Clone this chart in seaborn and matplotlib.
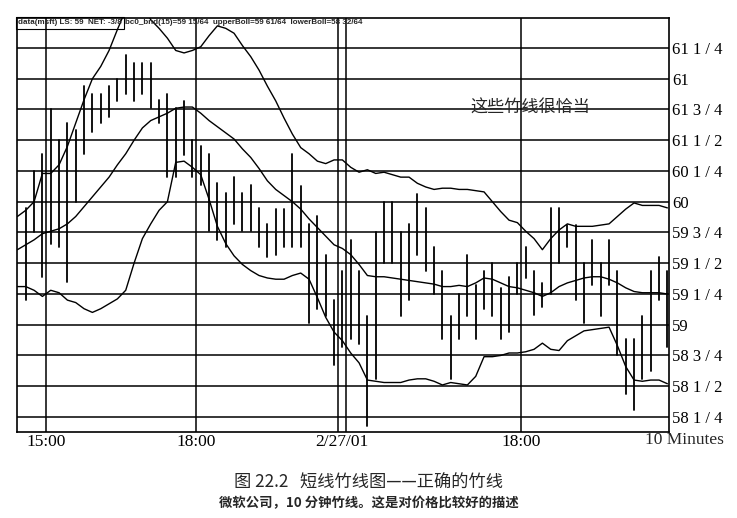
import numpy as np
import pandas as pd
import matplotlib
matplotlib.use("Agg")
import matplotlib.pyplot as plt
import seaborn as sns

# MSFT 10 minute bars (high / low)
bar_high = [59.95, 60.25, 60.39, 60.75, 60.50, 60.64, 60.58, 60.94, 60.88, 60.88,
            60.94, 61.00, 61.19, 61.13, 61.13, 61.13, 60.83, 60.88, 60.76, 60.82,
            60.50, 60.45, 60.39, 60.15, 60.07, 60.20, 60.07, 60.14, 59.95, 59.82,
            59.94, 59.94, 60.39, 60.13, 59.82, 59.88, 59.57, 59.20, 59.44, 59.69,
            59.44, 59.07, 59.75, 60.00, 60.00, 59.75, 59.82, 60.06, 59.95, 59.63,
            59.44, 59.07, 59.25, 59.57, 59.32, 59.44, 59.50, 59.30, 59.39, 59.50,
            59.63, 59.44, 59.34, 59.95, 59.95, 59.81, 59.81, 59.50, 59.69, 59.50,
            59.69, 59.44, 58.88, 58.88, 59.07, 59.44, 59.55, 59.44]
bar_low = [59.20, 59.75, 59.39, 59.66, 59.63, 59.35, 60.00, 60.39, 60.57, 60.64,
           60.69, 60.82, 60.88, 60.82, 60.88, 60.76, 60.64, 60.20, 60.20, 60.38,
           60.20, 60.14, 59.76, 59.69, 59.63, 59.82, 59.76, 59.76, 59.63, 59.55,
           59.57, 59.63, 59.63, 59.63, 59.01, 59.13, 59.07, 58.67, 58.82, 58.88,
           58.84, 58.18, 58.56, 59.50, 59.50, 59.07, 59.20, 59.57, 59.44, 59.25,
           58.88, 58.56, 58.88, 59.07, 58.88, 59.13, 59.07, 58.88, 58.94, 59.25,
           59.38, 59.08, 59.14, 59.25, 59.50, 59.63, 59.20, 59.01, 59.32, 59.07,
           59.32, 58.75, 58.44, 58.31, 58.56, 58.62, 59.20, 58.82]

# Bollinger band (15), starts one bar left of the first visible bar
upper_boll = [59.88, 59.93, 60.00, 60.23, 60.23, 60.30, 60.45, 60.64, 60.83, 61.00,
              61.10, 61.23, 61.40, 61.56, 61.62, 61.60, 61.48, 61.41, 61.33, 61.23,
              61.21, 61.23, 61.26, 61.35, 61.43, 61.41, 61.37, 61.27, 61.18, 61.07,
              60.94, 60.82, 60.68, 60.55, 60.44, 60.39, 60.33, 60.31, 60.34, 60.34,
              60.28, 60.24, 60.26, 60.23, 60.24, 60.22, 60.20, 60.20, 60.15, 60.12,
              60.10, 60.11, 60.11, 60.10, 60.10, 60.09, 60.08, 60.00, 59.92, 59.85,
              59.83, 59.76, 59.70, 59.61, 59.70, 59.77, 59.82, 59.80, 59.80, 59.80,
              59.81, 59.82, 59.88, 59.94, 59.99, 59.97, 59.97, 59.97, 59.95]
mid_boll = [59.61, 59.65, 59.69, 59.74, 59.76, 59.78, 59.82, 59.88, 59.96, 60.04,
            60.12, 60.20, 60.30, 60.39, 60.50, 60.60, 60.66, 60.69, 60.72, 60.76,
            60.77, 60.77, 60.72, 60.66, 60.61, 60.56, 60.51, 60.43, 60.36, 60.27,
            60.17, 60.10, 60.05, 60.00, 59.94, 59.86, 59.79, 59.72, 59.65, 59.62,
            59.57, 59.49, 59.40, 59.39, 59.39, 59.38, 59.37, 59.36, 59.35, 59.34,
            59.33, 59.31, 59.31, 59.32, 59.31, 59.34, 59.38, 59.37, 59.34, 59.31,
            59.30, 59.28, 59.26, 59.23, 59.26, 59.31, 59.34, 59.36, 59.38, 59.39,
            59.39, 59.37, 59.34, 59.30, 59.27, 59.26, 59.26, 59.26, 59.25]
lower_boll = [59.31, 59.31, 59.28, 59.23, 59.28, 59.26, 59.20, 59.18, 59.13, 59.10,
              59.13, 59.17, 59.21, 59.28, 59.50, 59.70, 59.82, 59.93, 60.00, 60.32,
              60.33, 60.28, 60.22, 60.02, 59.80, 59.66, 59.56, 59.49, 59.44, 59.40,
              59.38, 59.37, 59.37, 59.40, 59.42, 59.37, 59.22, 59.06, 58.94, 58.87,
              58.77, 58.69, 58.55, 58.54, 58.53, 58.53, 58.53, 58.55, 58.56, 58.56,
              58.54, 58.51, 58.53, 58.52, 58.51, 58.58, 58.74, 58.74, 58.75, 58.77,
              58.77, 58.78, 58.80, 58.85, 58.80, 58.79, 58.87, 58.91, 58.95, 58.96,
              58.97, 58.98, 58.83, 58.66, 58.55, 58.54, 58.55, 58.55, 58.52]

time_labels = ["15:00", "18:00", "2/27/01", "18:00"]
time_ticks = [2.45, 20.45, 37.95, 59.45]
session_lines = [2.45, 20.45, 37.45, 38.45, 59.45]

price_ticks = [58.25, 58.5, 58.75, 59.0, 59.25, 59.5, 59.75, 60.0,
               60.25, 60.5, 60.75, 61.0, 61.25]
price_labels = ["58 1 / 4", "58 1 / 2", "58 3 / 4", "59", "59 1 / 4", "59 1 / 2",
                "59 3 / 4", "60", "60 1 / 4", "61 1 / 2", "61 3 / 4", "61", "61 1 / 4"]

n = len(bar_high)
bars = pd.concat([
    pd.DataFrame({"x": range(n), "bar": range(n), "price": bar_low}),
    pd.DataFrame({"x": range(n), "bar": range(n), "price": bar_high}),
])
band_x = list(range(-1, n))

sns.set_style("white")
plt.rcParams["font.family"] = ["Liberation Serif", "DejaVu Serif"]

fig = plt.figure(figsize=(7.37, 5.18), dpi=100)
ax = fig.add_axes([0.0227, 0.1666, 0.8851, 0.7996])

sns.lineplot(data=bars, x="x", y="price", units="bar", estimator=None,
             color="black", lw=1.3, legend=False, ax=ax, sort=False)
for band in (upper_boll, mid_boll, lower_boll):
    sns.lineplot(x=band_x, y=band, color="black", lw=1.0, ax=ax)

for xv in session_lines:
    ax.axvline(xv, color="black", lw=1.1, zorder=1)

ax.set_xlim(-1.08, 77.2)
ax.set_ylim(58.13, 61.498)
ax.set_yticks(price_ticks)
ax.set_yticklabels(price_labels)
ax.yaxis.tick_right()
ax.set_xticks(time_ticks)
ax.set_xticklabels(time_labels)
ax.tick_params(axis="both", length=0, labelsize=12, colors="black")
ax.tick_params(axis="y", pad=2)
ax.tick_params(axis="x", pad=2, labelsize=12.5)
ax.grid(axis="y", color="black", lw=1.1)
ax.set_axisbelow(True)
ax.set_xlabel("")
ax.set_ylabel("")
for sp in ax.spines.values():
    sp.set_color("black")
    sp.set_linewidth(1.2)

fig.text(684 / 737, 1 - 440 / 518, "10 Minutes", ha="center", va="center", fontsize=12.5)

# header line of the charting program
fig.text(18 / 737, 1 - 23 / 518, "data(msft) LS: 59  NET: -3/8", ha="left", va="center",
         fontsize=5.8, fontweight="bold", family="Liberation Sans",
         bbox=dict(boxstyle="square,pad=0.25", fc="none", ec="black", lw=0.8))
fig.text(125 / 737, 1 - 23 / 518,
         "bc0_bnd(15)=59 15/64  upperBoll=59 61/64  lowerBoll=58 32/64",
         ha="left", va="center", fontsize=5.8, fontweight="bold", family="Liberation Sans")

fig.text(470 / 737, 1 - 108 / 518, "这些竹线很恰当", ha="left", va="center",
         fontsize=12.3, family=["Noto Sans CJK SC", "DejaVu Sans"])

fig.text(0.5, 1 - 483 / 518, "图 22.2   短线竹线图——正确的竹线", ha="center", va="center",
         fontsize=12.4, family=["Noto Sans CJK SC", "DejaVu Sans"])
fig.text(0.5, 1 - 503 / 518, "微软公司，10 分钟竹线。这是对价格比较好的描述", ha="center",
         va="center", fontsize=9.6, fontweight="bold",
         family=["Noto Sans CJK SC", "DejaVu Sans"])

fig.savefig("out.png", dpi=100)
